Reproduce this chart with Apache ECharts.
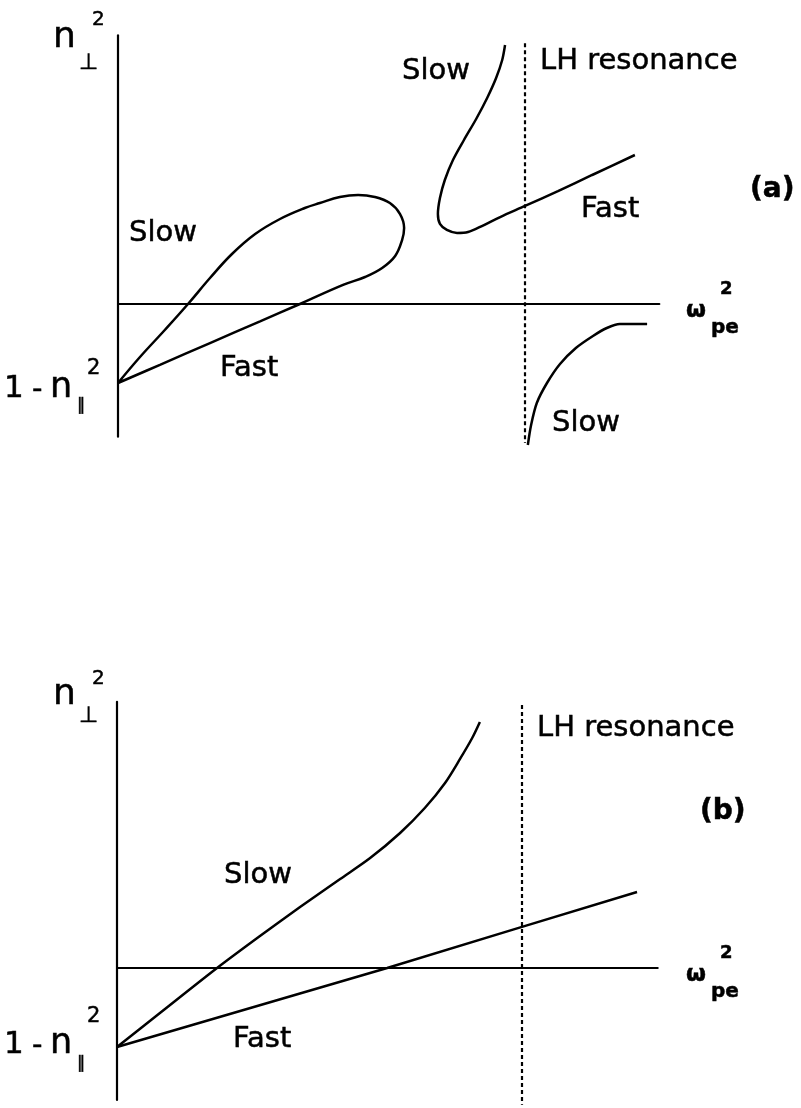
<!DOCTYPE html>
<html>
<head>
<meta charset="utf-8">
<script src="https://cdn.jsdelivr.net/npm/echarts@6/dist/echarts.min.js"></script>
<style>
  html, body { margin: 0; padding: 0; background: #fff; }
  #chart { width: 801px; height: 1108px; }
</style>
</head>
<body>
<div id="chart"></div>
<script>
// Cold-plasma dispersion sketch: n_perp^2 versus omega_pe^2 (normalised so the
// lower-hybrid resonance sits at omega_pe^2 = 1, and n_perp^2 = 1 - n_par^2 = -1 at the origin).

const lhResonance = 1.0;

// Panel (a): fast branch leaves the intercept, turns over and returns as the slow branch
const aLoop = [
  [0.000, -1.000], [0.103, -0.770], [0.226, -0.494], [0.349, -0.220], [0.447, 0.000],
  [0.553, 0.241], [0.607, 0.342], [0.649, 0.456], [0.681, 0.608], [0.698, 0.810],
  [0.703, 0.962], [0.693, 1.139], [0.668, 1.278], [0.631, 1.354], [0.590, 1.380],
  [0.545, 1.354], [0.496, 1.278], [0.459, 1.215], [0.398, 1.076], [0.337, 0.886],
  [0.280, 0.633], [0.226, 0.329], [0.172, 0.000], [0.115, -0.329], [0.054, -0.671],
  [0.000, -1.000]
];

// Panel (a): slow branch coming down from large n_perp^2, joining the fast branch
const aUpperBranch = [
  [0.951, 3.278], [0.944, 3.089], [0.929, 2.861], [0.907, 2.608], [0.880, 2.342],
  [0.850, 2.076], [0.823, 1.823], [0.803, 1.570], [0.791, 1.342], [0.786, 1.139],
  [0.791, 1.013], [0.808, 0.937], [0.833, 0.899], [0.860, 0.911], [0.894, 0.987],
  [0.939, 1.101], [1.000, 1.241], [1.081, 1.430], [1.165, 1.633], [1.270, 1.886]
];

// Panel (a): slow branch beyond the resonance (evanescent, n_perp^2 < 0)
const aLowerSlow = [
  [1.007, -1.785], [1.015, -1.532], [1.029, -1.253], [1.054, -1.000], [1.086, -0.759],
  [1.125, -0.557], [1.167, -0.405], [1.201, -0.304], [1.233, -0.253], [1.300, -0.253]
];

// Panel (b): slow and fast branches both rising from the intercept
const bSlow = [
  [0.000, -1.000], [0.106, -0.570], [0.247, 0.000], [0.353, 0.405], [0.452, 0.772],
  [0.551, 1.127], [0.625, 1.392], [0.699, 1.709], [0.760, 2.025], [0.810, 2.342],
  [0.847, 2.646], [0.877, 2.911], [0.896, 3.114]
];
const bFast = [[0.000, -1.000], [0.667, 0.000], [1.000, 0.520], [1.284, 0.962]];

// Extent of the dotted resonance marker in each panel
const aLHSpan = [3.30, -1.76];
const bLHSpan = [3.33, -1.73];
const aRange = { xMax: 1.33, yMin: -1.68, yMax: 3.40 };
const bRange = { xMax: 1.335, yMin: -1.67, yMax: 3.37 };

// layout: pixels per unit and origin row of each panel
const aScale = { x: 407, y: 79, zeroTop: 304, left: 118 };
const bScale = { x: 405, y: 79, zeroTop: 968, left: 117 };

const FONT = '"DejaVu Sans", Verdana, sans-serif';
const INK = '#000';

function axisPair(range, idx) {
  const common = {
    type: 'value', gridIndex: idx,
    axisTick: { show: false }, axisLabel: { show: false }, splitLine: { show: false }
  };
  const x = Object.assign({}, common, {
    min: 0, max: range.xMax,
    axisLine: { show: true, onZero: true, lineStyle: { color: INK, width: 2.2 } }
  });
  const y = Object.assign({}, common, {
    min: range.yMin, max: range.yMax,
    axisLine: { show: true, onZero: false, lineStyle: { color: INK, width: 2.2 } }
  });
  return [x, y];
}

function gridFor(range, s) {
  return {
    left: s.left, top: s.zeroTop - range.yMax * s.y,
    width: range.xMax * s.x, height: (range.yMax - range.yMin) * s.y
  };
}

function curve(data, idx, extra) {
  return Object.assign({
    type: 'line', xAxisIndex: idx, yAxisIndex: idx, data: data,
    symbol: 'none', showSymbol: false, smooth: 0.3, clip: false, silent: true,
    lineStyle: { color: INK, width: 2.5 }
  }, extra || {});
}

function dotted(span, idx) {
  return curve([[lhResonance, span[0]], [lhResonance, span[1]]], idx, {
    smooth: false,
    lineStyle: { color: INK, width: 2.2, type: [4, 3] }
  });
}

function txt(text, x, y, size, weight) {
  return {
    type: 'text', x: x, y: y, silent: true,
    style: {
      text: text, fill: INK, stroke: INK, lineWidth: 0.5,
      align: 'left', verticalAlign: 'middle',
      font: (weight || 'normal') + ' ' + size + 'px ' + FONT
    }
  };
}

const [ax, ay] = axisPair(aRange, 0);
const [bx, by] = axisPair(bRange, 1);

const option = {
  backgroundColor: '#fff',
  animation: false,
  grid: [gridFor(aRange, aScale), gridFor(bRange, bScale)],
  xAxis: [ax, bx],
  yAxis: [ay, by],
  series: [
    curve(aLoop, 0, { smooth: 0.4 }),
    curve(aUpperBranch, 0),
    curve(aLowerSlow, 0),
    dotted(aLHSpan, 0),
    curve(bSlow, 1),
    curve(bFast, 1, { smooth: false }),
    dotted(bLHSpan, 1)
  ],
  graphic: [
    // panel (a) labels
    txt('n', 53, 38, 36), txt('\u22A5', 79, 63, 22), txt('2', 92, 20, 20),
    txt('1', 4, 389, 31), txt('-', 32, 390, 29), txt('n', 50, 388, 35),
    txt('\u2225', 77, 406, 17), txt('2', 87, 369, 21),
    txt('Slow', 129, 233, 29),
    txt('Fast', 220, 368, 29),
    txt('Slow', 402, 71, 29),
    txt('LH resonance', 540, 61, 29),
    txt('Fast', 581, 209, 29),
    txt('(a)', 750, 190, 28, 'bold'),
    txt('\u03C9', 686, 311, 23, 'bold'), txt('2', 720, 289, 18, 'bold'), txt('pe', 711, 328, 20, 'bold'),
    txt('Slow', 552, 423, 29),
    // panel (b) labels
    txt('n', 53, 695, 36), txt('\u22A5', 79, 716, 22), txt('2', 92, 679, 20),
    txt('1', 4, 1045, 31), txt('-', 32, 1046, 29), txt('n', 50, 1044, 35),
    txt('\u2225', 77, 1064, 17), txt('2', 87, 1017, 21),
    txt('Slow', 224, 875, 29),
    txt('Fast', 233, 1039, 29),
    txt('LH resonance', 537, 728, 29),
    txt('(b)', 700, 812, 28, 'bold'),
    txt('\u03C9', 686, 975, 23, 'bold'), txt('2', 720, 953, 18, 'bold'), txt('pe', 711, 992, 20, 'bold')
  ]
};

const chart = echarts.init(document.getElementById('chart'), null, { renderer: 'canvas' });
chart.setOption(option);
</script>
</body>
</html>
